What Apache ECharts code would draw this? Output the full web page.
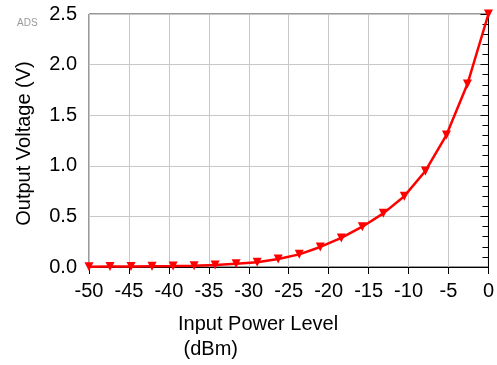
<!DOCTYPE html>
<html>
<head>
<meta charset="utf-8">
<script src="https://cdn.jsdelivr.net/npm/echarts@6/dist/echarts.min.js"></script>
<style>
  html, body { margin: 0; padding: 0; background: #fff; }
  #chart { width: 497px; height: 365px; }
</style>
</head>
<body>
<div id="chart"></div>
<script>
// Swept input power (dBm), 20 points from -50 to 0
const inputPower = [-50, -47.37, -44.74, -42.11, -39.47, -36.84, -34.21, -31.58, -28.95, -26.32,
                    -23.68, -21.05, -18.42, -15.79, -13.16, -10.53, -7.89, -5.26, -2.63, 0];
// Detector output voltage (V)
const outputVoltage = [0.003, 0.004, 0.005, 0.007, 0.009, 0.013, 0.02, 0.033, 0.046, 0.079,
                       0.125, 0.198, 0.287, 0.398, 0.53, 0.70, 0.949, 1.304, 1.808, 2.5];

const xTicks = { min: -50, max: 0, step: 5 };
const yTicks = { min: 0, max: 2.5, step: 0.5 };

const FONT = '"Liberation Sans", Arial, sans-serif';
const points = inputPower.map((p, i) => [p, outputVoltage[i]]);

const chart = echarts.init(document.getElementById('chart'), null, { renderer: 'canvas' });
chart.setOption({
  animation: false,
  backgroundColor: '#ffffff',
  grid: {
    left: 89, right: 8, top: 14, bottom: 98,
    show: true, borderColor: '#333', borderWidth: 1, backgroundColor: 'transparent'
  },
  graphic: [
    {
      type: 'text', left: 17, top: 18,
      style: { text: 'ADS', fill: '#999', font: '10px ' + FONT }
    },
    {
      type: 'text', left: 178, top: 312,
      style: {
        text: 'Input Power Level\n (dBm)', fill: '#000',
        font: '20px ' + FONT, lineHeight: 25, align: 'left'
      }
    }
  ],
  xAxis: {
    type: 'value',
    min: xTicks.min, max: xTicks.max, interval: xTicks.step,
    axisLine: { show: true, lineStyle: { color: '#000', width: 1 } },
    axisTick: { show: true, length: 7, lineStyle: { color: '#000' } },
    axisLabel: { color: '#000', fontFamily: FONT, fontSize: 20, margin: 14 },
    splitLine: { show: true, lineStyle: { color: '#c8c8c8', width: 1 } }
  },
  yAxis: {
    type: 'value',
    min: yTicks.min, max: yTicks.max, interval: yTicks.step,
    name: 'Output Voltage (V)',
    nameLocation: 'middle', nameGap: 55,
    nameTextStyle: { color: '#000', fontFamily: FONT, fontSize: 20, padding: [0, 0, 0, -6] },
    axisLine: { show: true, lineStyle: { color: '#000', width: 1 } },
    axisTick: { show: true, length: 8, lineStyle: { color: '#000' } },
    minorTick: { show: true, splitNumber: 5, length: 6, lineStyle: { color: '#000' } },
    axisLabel: {
      color: '#000', fontFamily: FONT, fontSize: 20, margin: 12,
      formatter: v => v.toFixed(1)
    },
    splitLine: { show: true, lineStyle: { color: '#c8c8c8', width: 1 } }
  },
  series: [{
    type: 'line',
    data: points,
    symbol: 'triangle',
    symbolRotate: 180,
    symbolSize: 9,
    lineStyle: { color: '#ff0000', width: 2.5 },
    itemStyle: { color: '#ff0000' },
    clip: false
  }]
});
</script>
</body>
</html>
